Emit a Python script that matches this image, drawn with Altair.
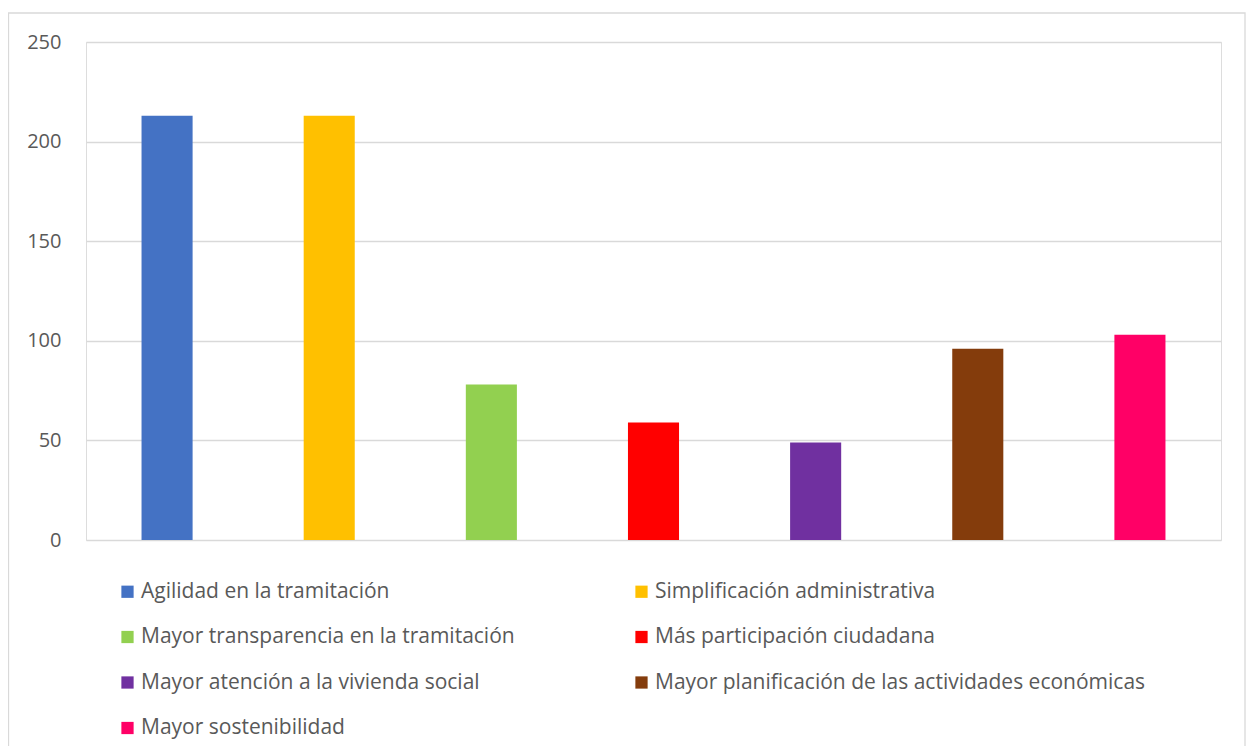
import altair as alt
import pandas as pd

categories = [
    "Agilidad en la tramitación",
    "Simplificación administrativa",
    "Mayor transparencia en la tramitación",
    "Más participación ciudadana",
    "Mayor atención a la vivienda social",
    "Mayor planificación de las actividades económicas",
    "Mayor sostenibilidad",
]
values = [213, 213, 78, 59, 49, 96, 103]
colors = ["#4472C4", "#FFC000", "#92D050", "#FF0000", "#7030A0", "#843C0C", "#FF0066"]
y_ticks = [0, 50, 100, 150, 200, 250]

df = pd.DataFrame({"cat": categories, "val": values})

FONT = "Open Sans"
GREY = "#595959"

bars = alt.Chart(df).mark_bar().encode(
    x=alt.X("cat:N", sort=None, axis=None,
            scale=alt.Scale(paddingInner=0.685, paddingOuter=0.3425)),
    y=alt.Y("val:Q", scale=alt.Scale(domain=[0, 250]),
            axis=alt.Axis(values=y_ticks, title=None, domain=False, ticks=False,
                          grid=True, gridColor="#D9D9D9", gridWidth=1.3,
                          labelFont=FONT, labelFontSize=20, labelColor=GREY,
                          labelPadding=25)),
    color=alt.Color("cat:N", sort=None,
                    scale=alt.Scale(domain=categories, range=colors),
                    legend=alt.Legend(title=None, orient="none", legendX=31, legendY=539,
                                      direction="horizontal",
                                      columns=2, columnPadding=116, rowPadding=23.5,
                                      symbolType="square", symbolSize=150,
                                      symbolStrokeWidth=0, symbolOpacity=1,
                                      labelFont=FONT, labelFontSize=21, labelColor=GREY,
                                      labelLimit=700, labelOffset=3, padding=0)),
)

border = alt.Chart(pd.DataFrame({"a": [0]})).mark_rect(
    fill=None, stroke="#D9D9D9", strokeWidth=1.3
).encode(x=alt.value(-77.5), x2=alt.value(1159), y=alt.value(-29), y2=alt.value(740))

chart = alt.layer(border, bars).properties(
    width=1135, height=498,
    autosize=alt.AutoSizeParams(type="none"),
    padding={"left": 78, "top": 34, "right": 25, "bottom": 206},
).configure_view(stroke=None).configure(background="white")

chart.save("out.html", embed_options={"renderer": "svg", "actions": False})
